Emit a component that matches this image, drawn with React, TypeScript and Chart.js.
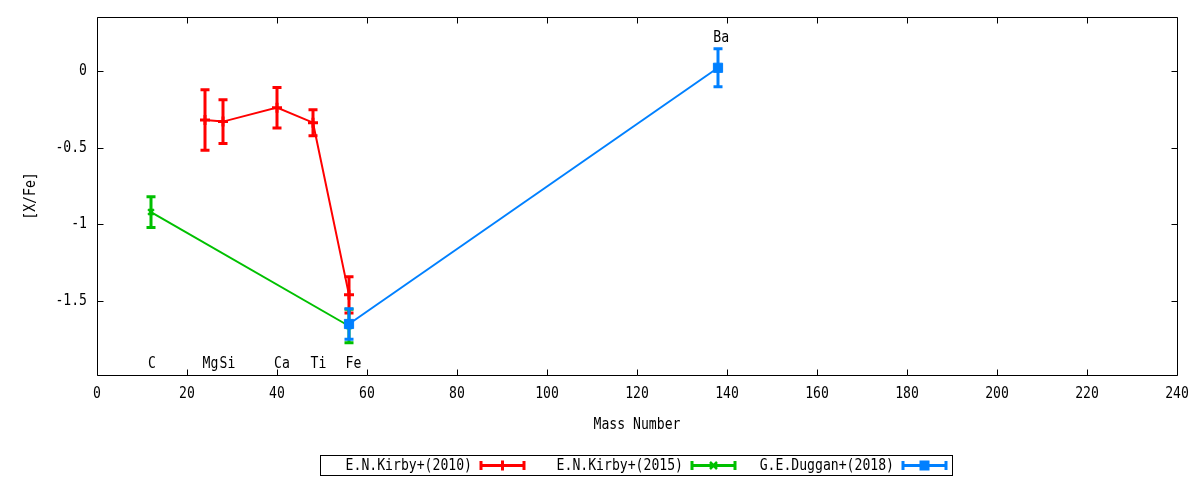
import React, { useEffect, useRef } from "react";
import { Chart, registerables } from "chart.js";

Chart.register(...registerables);

// ---- data ----
const elementNames = ["C", "Mg", "Si", "Ca", "Ti", "Fe", "Ba"];
const elementLabelX = [12.2, 25.2, 29, 41.1, 49.2, 57, 138.7];
const elementLabelY = [-1.911, -1.911, -1.911, -1.911, -1.911, -1.911, 0.218];

const kirby2010Mass = [24, 28, 40, 48, 56];
const kirby2010Value = [-0.32, -0.33, -0.239, -0.337, -1.46];
const kirby2010Error = [0.197, 0.143, 0.132, 0.085, 0.118];

const kirby2015Mass = [12, 56];
const kirby2015Value = [-0.92, -1.663];
const kirby2015Error = [0.1, 0.11];

const duggan2018Mass = [56, 138];
const duggan2018Value = [-1.65, 0.021];
const duggan2018Error = [0.1, 0.124];

const seriesNames = ["E.N.Kirby+(2010)", "E.N.Kirby+(2015)", "G.E.Duggan+(2018)"];
const xTicks = [0, 20, 40, 60, 80, 100, 120, 140, 160, 180, 200, 220, 240];
const yTicks = [-1.5, -1, -0.5, 0];

const xTitle = "Mass Number";
const yTitle = "[X/Fe]";

const RED = "#ff0000";
const GREEN = "#00c000";
const BLUE = "#0080ff";

const FONT = "16px 'DejaVu Sans Mono'";
const SX = 0.82;

function drawText(
  ctx: CanvasRenderingContext2D,
  text: string,
  x: number,
  y: number,
  align: CanvasTextAlign,
  rot = 0
) {
  ctx.save();
  ctx.translate(x, y);
  if (rot) ctx.rotate(rot);
  ctx.scale(SX, 1);
  ctx.font = FONT;
  ctx.fillStyle = "#000";
  ctx.textAlign = align;
  ctx.textBaseline = "middle";
  ctx.fillText(text, 0, 0);
  ctx.restore();
}

function toPoints(xs: number[], ys: number[]) {
  return xs.map((x, i) => ({ x, y: ys[i] }));
}

function drawMarker(ctx: CanvasRenderingContext2D, style: string, x: number, y: number, color: string) {
  ctx.save();
  ctx.strokeStyle = color;
  ctx.fillStyle = color;
  if (style === "cross") {
    ctx.lineWidth = 3;
    ctx.beginPath();
    ctx.moveTo(x - 5, y);
    ctx.lineTo(x + 5, y);
    ctx.moveTo(x, y - 5);
    ctx.lineTo(x, y + 5);
    ctx.stroke();
  } else if (style === "crossRot") {
    ctx.lineWidth = 2.5;
    ctx.beginPath();
    ctx.moveTo(x - 3.5, y - 3.5);
    ctx.lineTo(x + 3.5, y + 3.5);
    ctx.moveTo(x + 3.5, y - 3.5);
    ctx.lineTo(x - 3.5, y + 3.5);
    ctx.stroke();
  } else {
    ctx.fillRect(x - 5, y - 5, 10, 10);
  }
  ctx.restore();
}

const errorBarPlugin = {
  id: "errorBars",
  afterDatasetDraw(chart: any, args: any) {
    const ds: any = chart.data.datasets[args.index];
    const errs: number[] = ds.errors;
    if (!errs) return;
    const ctx: CanvasRenderingContext2D = chart.ctx;
    const yScale = chart.scales.y;
    ctx.save();
    ctx.strokeStyle = ds.borderColor;
    ctx.lineWidth = 3;
    args.meta.data.forEach((pt: any, i: number) => {
      const v = ds.data[i].y;
      const top = yScale.getPixelForValue(v + errs[i]);
      const bot = yScale.getPixelForValue(v - errs[i]);
      const x = pt.x;
      ctx.beginPath();
      ctx.moveTo(x, top);
      ctx.lineTo(x, bot);
      ctx.moveTo(x - 4.5, top);
      ctx.lineTo(x + 4.5, top);
      ctx.moveTo(x - 4.5, bot);
      ctx.lineTo(x + 4.5, bot);
      ctx.stroke();
    });
    ctx.restore();
  },
};

const framePlugin = {
  id: "frame",
  beforeDatasetsDraw(chart: any) {
    const ctx: CanvasRenderingContext2D = chart.ctx;
    const { left, right, top, bottom } = chart.chartArea;
    const xs = chart.scales.x;
    const ys = chart.scales.y;
    ctx.save();
    ctx.strokeStyle = "#000";
    ctx.lineWidth = 1;
    const L = Math.round(left) + 0.5;
    const R = Math.round(right) + 0.5;
    const T = Math.round(top) + 0.5;
    const B = Math.round(bottom) + 0.5;
    ctx.beginPath();
    ctx.rect(L, T, R - L, B - T);
    const tl = 6;
    xTicks.forEach((v) => {
      const px = Math.round(xs.getPixelForValue(v)) + 0.5;
      ctx.moveTo(px, B);
      ctx.lineTo(px, B - tl);
      ctx.moveTo(px, T);
      ctx.lineTo(px, T + tl);
    });
    yTicks.forEach((v) => {
      const py = Math.round(ys.getPixelForValue(v)) + 0.5;
      ctx.moveTo(L, py);
      ctx.lineTo(L + tl, py);
      ctx.moveTo(R, py);
      ctx.lineTo(R - tl, py);
    });
    ctx.stroke();
    ctx.restore();
  },
  afterDraw(chart: any) {
    const ctx: CanvasRenderingContext2D = chart.ctx;
    const { left, right, top, bottom } = chart.chartArea;
    const xs = chart.scales.x;
    const ys = chart.scales.y;
    // tick labels
    xTicks.forEach((v) => drawText(ctx, String(v), xs.getPixelForValue(v), bottom + 19, "center"));
    yTicks.forEach((v) => drawText(ctx, String(v), left - 10, ys.getPixelForValue(v), "right"));
    // element labels
    elementNames.forEach((name, i) =>
      drawText(ctx, name, xs.getPixelForValue(elementLabelX[i]), ys.getPixelForValue(elementLabelY[i]), "center")
    );
    // axis titles
    drawText(ctx, xTitle, (left + right) / 2, bottom + 50, "center");
    drawText(ctx, yTitle, 31, (top + bottom) / 2, "center", -Math.PI / 2);
    // legend
    ctx.save();
    ctx.strokeStyle = "#000";
    ctx.lineWidth = 1;
    ctx.strokeRect(320.5, 455.5, 632, 20);
    ctx.restore();
    const colors = [RED, GREEN, BLUE];
    const styles = ["cross", "crossRot", "rect"];
    const textRight = [472, 683, 894];
    seriesNames.forEach((name, i) => {
      const ly = 465.5;
      drawText(ctx, name, textRight[i], ly, "right");
      const x0 = textRight[i] + 9;
      const x1 = x0 + 43;
      ctx.save();
      ctx.strokeStyle = colors[i];
      ctx.lineWidth = 3;
      ctx.beginPath();
      ctx.moveTo(x0, ly);
      ctx.lineTo(x1, ly);
      ctx.moveTo(x0, ly - 4.5);
      ctx.lineTo(x0, ly + 4.5);
      ctx.moveTo(x1, ly - 4.5);
      ctx.lineTo(x1, ly + 4.5);
      ctx.stroke();
      ctx.restore();
      drawMarker(ctx, styles[i], (x0 + x1) / 2, ly, colors[i]);
    });
  },
};

export default function App() {
  const canvasRef = useRef<HTMLCanvasElement | null>(null);

  useEffect(() => {
    if (!canvasRef.current) return;
    const common = {
      showLine: true,
      borderWidth: 2,
      pointBorderWidth: 3,
      fill: false,
      tension: 0,
    };
    const chart = new Chart(canvasRef.current, {
      type: "scatter",
      data: {
        datasets: [
          {
            ...common,
            label: seriesNames[0],
            data: toPoints(kirby2010Mass, kirby2010Value),
            errors: kirby2010Error,
            borderColor: RED,
            backgroundColor: RED,
            pointStyle: "cross",
            pointRadius: 5,
            order: 2,
          } as any,
          {
            ...common,
            label: seriesNames[1],
            data: toPoints(kirby2015Mass, kirby2015Value),
            errors: kirby2015Error,
            borderColor: GREEN,
            backgroundColor: GREEN,
            pointStyle: "crossRot",
            pointRadius: 4,
            pointBorderWidth: 2.5,
            order: 1,
          } as any,
          {
            ...common,
            label: seriesNames[2],
            data: toPoints(duggan2018Mass, duggan2018Value),
            errors: duggan2018Error,
            borderColor: BLUE,
            backgroundColor: BLUE,
            pointStyle: "rect",
            pointRadius: 6.5,
            pointBorderWidth: 1,
            order: 0,
          } as any,
        ],
      },
      options: {
        animation: false,
        responsive: true,
        maintainAspectRatio: false,
        layout: { padding: { left: 0, right: 23, top: 17, bottom: 0 } },
        plugins: {
          legend: { display: false },
          tooltip: { enabled: false },
        },
        scales: {
          x: {
            type: "linear",
            min: 0,
            max: 240,
            grid: { display: false, drawTicks: false },
            border: { display: false },
            ticks: { display: false },
            afterBuildTicks: (s: any) => {
              s.ticks = xTicks.map((v) => ({ value: v }));
            },
            afterFit: (s: any) => {
              s.height = 105;
            },
          },
          y: {
            type: "linear",
            min: -1.9826,
            max: 0.3522,
            grid: { display: false, drawTicks: false },
            border: { display: false },
            ticks: { display: false },
            afterBuildTicks: (s: any) => {
              s.ticks = yTicks.map((v) => ({ value: v }));
            },
            afterFit: (s: any) => {
              s.width = 97;
            },
          },
        },
      } as any,
      plugins: [framePlugin, errorBarPlugin],
    });
    return () => chart.destroy();
  }, []);

  return (
    <div style={{ position: "fixed", left: 0, top: 0, width: 1200, height: 480, background: "#fff" }}>
      <canvas ref={canvasRef} />
    </div>
  );
}
